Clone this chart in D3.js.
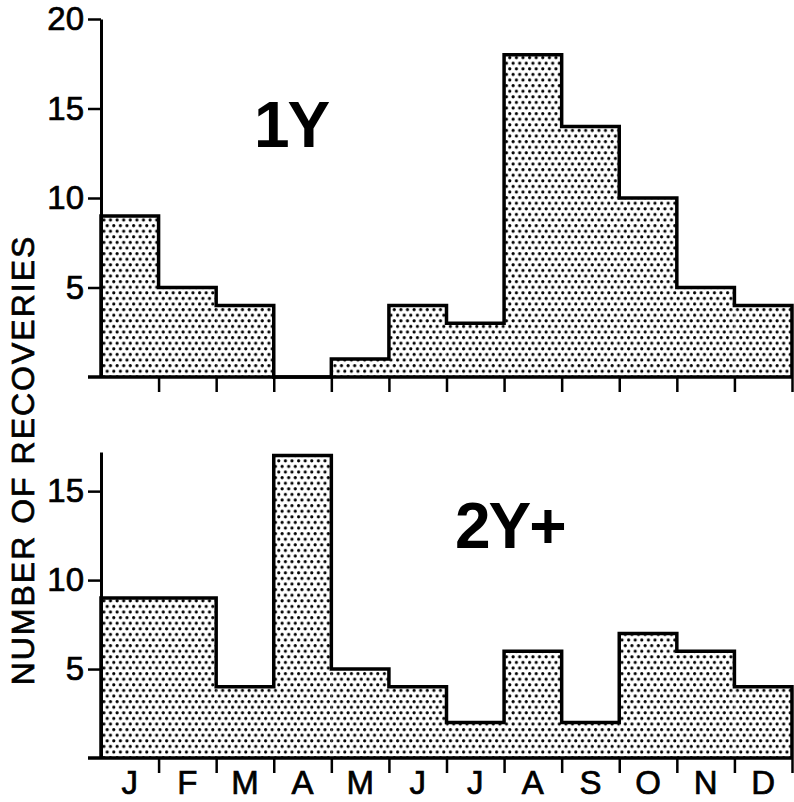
<!DOCTYPE html>
<html>
<head>
<meta charset="utf-8">
<script src="https://cdn.jsdelivr.net/npm/d3@7"></script>
<style>
  body { margin: 0; background: #fff; }
  svg { display: block; }
  text { font-family: 'Liberation Sans', Arial, Helvetica, sans-serif; fill: #000; }
  .heavy { stroke: #000; stroke-width: 0.7px; }
</style>
</head>
<body>
<svg id="chart" width="794" height="802"></svg>
<script>
const months = ['J', 'F', 'M', 'A', 'M', 'J', 'J', 'A', 'S', 'O', 'N', 'D']
const values1Y = [9, 5, 4, 0, 1, 4, 3, 18, 14, 10, 5, 4]
const values2Y = [9, 9, 4, 17, 5, 4, 2, 6, 2, 7, 6, 4]
const ticks1Y = [5, 10, 15, 20]
const ticks2Y = [5, 10, 15]

const width = 794
const height = 802
const left = 101
const right = 792

const svg = d3.select('#chart')
  .attr('viewBox', [0, 0, width, height])

// dot screen pattern
const pat = svg.append('defs')
  .append('pattern')
  .attr('id', 'dots')
  .attr('patternUnits', 'userSpaceOnUse')
  .attr('width', 6.6)
  .attr('height', 11.2)
pat.append('rect').attr('width', 6.6).attr('height', 11.2).attr('fill', '#fff')
pat.selectAll('circle')
  .data([[1.6, 1.6], [4.9, 7.2]])
  .join('circle')
  .attr('cx', d => d[0])
  .attr('cy', d => d[1])
  .attr('r', 1.6)
  .attr('fill', '#000')

const x = d3.scaleBand()
  .domain(d3.range(months.length))
  .range([left, right])
  .padding(0)

const xEdge = d3.scaleLinear()
  .domain([0, months.length])
  .range([left, right])

function drawPanel (values, yMax, tickVals, top, bottom, title, titlePos, showLabels) {
  const g = svg.append('g')

  const y = d3.scaleLinear()
    .domain([0, yMax])
    .range([bottom, top])

  // Fill
  g.selectAll('rect.bar')
    .data(values)
    .join('rect')
    .attr('class', 'bar')
    .attr('x', (d, i) => x(i))
    .attr('y', d => y(d))
    .attr('width', x.bandwidth())
    .attr('height', d => y(0) - y(d))
    .attr('fill', 'url(#dots)')

  // Step outline
  const pts = [[0, 0]]
  values.forEach((v, i) => pts.push([i, v]))
  pts.push([values.length, values[values.length - 1]])
  pts.push([values.length, 0])

  const step = d3.line()
    .x(d => xEdge(d[0]))
    .y(d => y(d[1]))
    .curve(d3.curveStepAfter)

  g.append('path')
    .attr('d', step(pts))
    .attr('fill', 'none')
    .attr('stroke', '#000')
    .attr('stroke-width', 3.5)
    .attr('stroke-linejoin', 'miter')

  // Y axis
  const yAxis = g.append('g')
    .attr('transform', `translate(${left},0)`)
    .call(d3.axisLeft(y).tickValues(tickVals).tickSize(13).tickSizeOuter(0).tickPadding(4))
  yAxis.select('.domain').attr('stroke-width', 3)
  yAxis.selectAll('.tick line').attr('stroke-width', 2.5)
  yAxis.selectAll('.tick text')
    .attr('class', 'heavy')
    .style('font-size', '33px')
    .attr('fill', '#000')

  // Baseline
  g.append('line')
    .attr('x1', left - 13)
    .attr('x2', right + 1)
    .attr('y1', y(0))
    .attr('y2', y(0))
    .attr('stroke', '#000')
    .attr('stroke-width', 3.5)

  // X ticks at month boundaries
  const xAxis = g.append('g')
    .attr('transform', `translate(0,${y(0)})`)
    .call(d3.axisBottom(xEdge).tickValues(d3.range(1, months.length + 1)).tickSize(15).tickFormat(''))
  xAxis.select('.domain').remove()
  xAxis.selectAll('.tick line').attr('stroke-width', 2.5)

  if (showLabels) {
    g.selectAll('text.month')
      .data(months)
      .join('text')
      .attr('class', 'month heavy')
      .attr('x', (d, i) => x(i) + x.bandwidth() / 2)
      .attr('y', bottom + 36)
      .attr('text-anchor', 'middle')
      .style('font-size', '33px')
      .text(d => d)
  }

  g.append('text')
    .attr('x', titlePos[0])
    .attr('y', titlePos[1])
    .style('font-size', '64px')
    .style('font-weight', 'bold')
    .style('letter-spacing', '-2px')
    .text(title)
}

drawPanel(values1Y, 20, ticks1Y, 19, 377, '1Y', [254, 147], false)
drawPanel(values2Y, 17.2, ticks2Y, 452, 758, '2Y+', [455, 548], true)

// Shared y label
svg.append('text')
  .attr('class', 'heavy')
  .attr('transform', 'translate(34,460) rotate(-90)')
  .attr('text-anchor', 'middle')
  .style('font-size', '32px')
  .style('letter-spacing', '2px')
  .text('NUMBER OF RECOVERIES')
</script>
</body>
</html>
